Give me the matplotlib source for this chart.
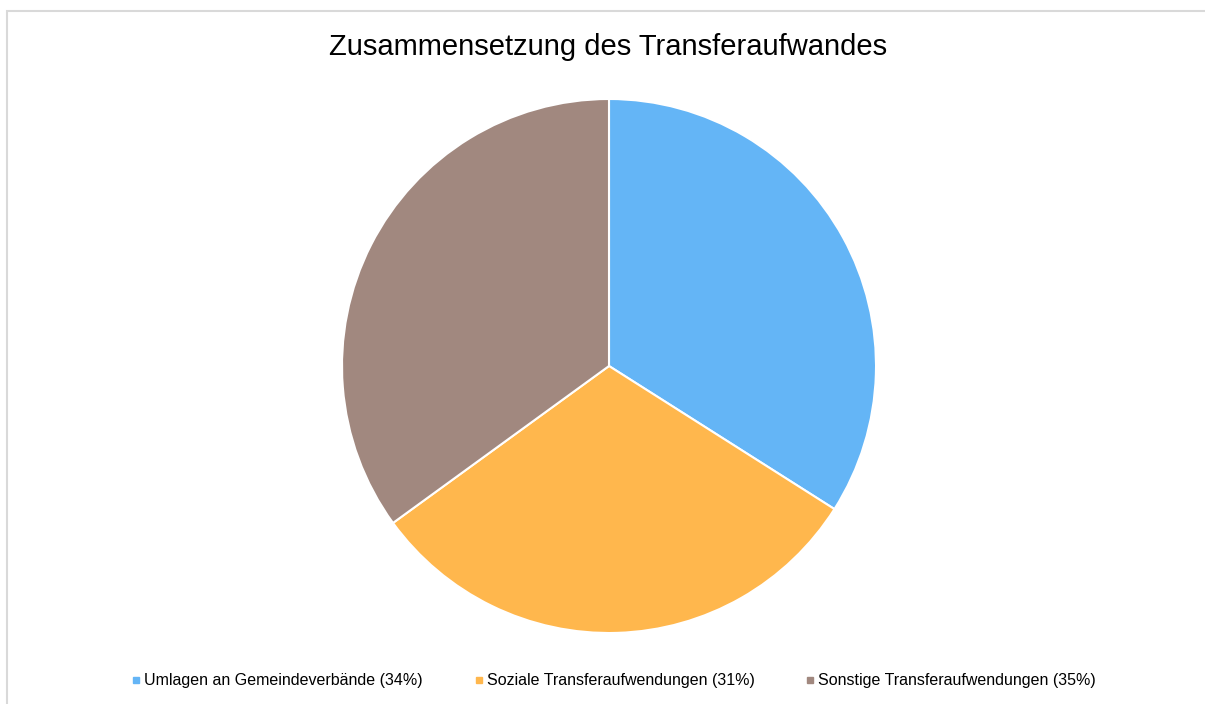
import matplotlib.pyplot as plt
from matplotlib.lines import Line2D
from matplotlib.patches import Rectangle

# Data
labels = ["Umlagen an Gemeindeverbände", "Soziale Transferaufwendungen", "Sonstige Transferaufwendungen"]
shares = [34, 31, 35]
colors = ["#64B5F6", "#FFB74D", "#A1887F"]

plt.rcParams['font.family'] = ['Liberation Sans', 'DejaVu Sans']

fig = plt.figure(figsize=(12.05, 7.04), dpi=100)

# light grey frame around the chart area
fig.patches.append(Rectangle((6.5 / 1205, -0.01), 1.02, 1 - 10.5 / 704 + 0.01,
                             transform=fig.transFigure, fill=False,
                             edgecolor="#D9D9D9", linewidth=1.5))

# pie axes: centre (609, 366) px, radius 267 px
ax = fig.add_axes([(609 - 267) / 1205, (704 - 633) / 704, 534 / 1205, 534 / 704])
ax.pie(shares, colors=colors, startangle=90, counterclock=False, radius=1,
       wedgeprops=dict(edgecolor="white", linewidth=1.5))
ax.set_xlim(-1, 1)
ax.set_ylim(-1, 1)
ax.set_aspect("equal")
ax.axis("off")

fig.text(608 / 1205, 1 - 47 / 704, "Zusammensetzung des Transferaufwandes",
         ha="center", va="center", fontsize=21, color="#000000")

handles = [Line2D([], [], marker="s", linestyle="none", markersize=4.5,
                  markerfacecolor=c, markeredgecolor=c) for c in colors]
legend_labels = [f"{l} ({s}%)" for l, s in zip(labels, shares)]
fig.legend(handles, legend_labels, loc="center", ncol=3,
           bbox_to_anchor=(613 / 1205, 1 - 681 / 704), frameon=False,
           fontsize=11.5, handletextpad=0.1, columnspacing=3.1, handlelength=0.8)

fig.savefig("out.png", dpi=100)
